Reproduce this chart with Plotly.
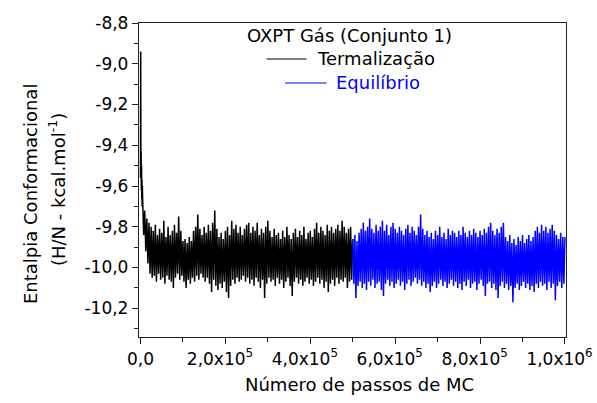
import plotly.graph_objects as go

# Entalpia conformacional ao longo da simulação MC (OXPT gás, conjunto 1).
# Cada bloco de 5000 passos é descrito pelos valores máximo e mínimo do traço.
inicio_passos = [0, 500, 1000, 1500, 2000, 2500, 3000, 3500, 4000, 4500]
inicio_entalpia = [-9.56, -8.94, -9.52, -9.43, -9.62, -9.50, -9.66, -9.57, -9.70, -9.60]

termal_max = [
    -9.66, -9.72, -9.76, -9.78, -9.80,
    -9.82, -9.79, -9.84, -9.81, -9.83, -9.77, -9.85, -9.80, -9.84, -9.82, -9.79, -9.83, -9.75, -9.82,
    -9.87, -9.86, -9.88, -9.85, -9.87, -9.82, -9.80, -9.74, -9.81, -9.84,
    -9.80, -9.83, -9.79, -9.82, -9.78, -9.72, -9.81, -9.85, -9.83, -9.86,
    -9.82, -9.80, -9.84, -9.77, -9.81, -9.79, -9.83, -9.80, -9.84, -9.81,
    -9.79, -9.78, -9.83, -9.80, -9.82, -9.78, -9.84, -9.81, -9.83, -9.80,
    -9.77, -9.82, -9.85, -9.81, -9.84, -9.83, -9.86, -9.82, -9.85, -9.80,
    -9.84, -9.86, -9.83, -9.81, -9.85, -9.82, -9.84, -9.80, -9.86, -9.83,
    -9.82, -9.85, -9.81, -9.78, -9.83, -9.80, -9.82, -9.84, -9.79, -9.82,
    -9.80, -9.83, -9.81, -9.79, -9.82, -9.77, -9.80, -9.83, -9.81, -9.80,
]
termal_min = [
    -9.84, -9.92, -9.98, -10.03, -10.05,
    -10.04, -10.07, -10.03, -10.06, -10.05, -10.08, -10.04, -10.06, -10.07, -10.10, -10.05, -10.03, -10.06, -10.04,
    -10.07, -10.10, -10.06, -10.08, -10.05, -10.07, -10.04, -10.06, -10.03, -10.05,
    -10.07, -10.05, -10.08, -10.12, -10.06, -10.09, -10.11, -10.08, -10.10, -10.07,
    -10.12, -10.15, -10.09, -10.06, -10.08, -10.05, -10.07, -10.06, -10.04, -10.07,
    -10.05, -10.08, -10.06, -10.09, -10.05, -10.07, -10.10, -10.06, -10.15, -10.08,
    -10.05, -10.07, -10.06, -10.09, -10.05, -10.08, -10.06, -10.10, -10.07, -10.05,
    -10.09, -10.14, -10.07, -10.05, -10.08, -10.06, -10.09, -10.07, -10.05, -10.08,
    -10.06, -10.09, -10.07, -10.05, -10.08, -10.06, -10.10, -10.07, -10.12, -10.08,
    -10.06, -10.09, -10.05, -10.08, -10.06, -10.07, -10.05, -10.10, -10.07, -10.06,
]

equil_max = [
    -9.86, -9.84, -9.87, -9.83, -9.81, -9.78, -9.82, -9.80, -9.76, -9.81,
    -9.83, -9.79, -9.82, -9.80, -9.77, -9.82, -9.79, -9.84, -9.80, -9.78,
    -9.81, -9.83, -9.80, -9.82, -9.84, -9.81, -9.79, -9.83, -9.80, -9.82,
    -9.84, -9.80, -9.74, -9.81, -9.84, -9.82, -9.85, -9.83, -9.86, -9.82,
    -9.84, -9.80, -9.85, -9.83, -9.86, -9.81, -9.84, -9.82, -9.83, -9.85,
    -9.82, -9.84, -9.80, -9.83, -9.85, -9.82, -9.84, -9.81, -9.83, -9.85,
    -9.82, -9.84, -9.81, -9.83, -9.80, -9.78, -9.82, -9.84, -9.81, -9.83,
    -9.80, -9.78, -9.85, -9.87, -9.84, -9.88, -9.86, -9.89, -9.85, -9.87,
    -9.84, -9.88, -9.86, -9.84, -9.87, -9.85, -9.82, -9.80, -9.83, -9.79,
    -9.82, -9.80, -9.83, -9.81, -9.79, -9.82, -9.84, -9.86, -9.83, -9.85,
]
equil_min = [
    -10.08, -10.15, -10.09, -10.07, -10.10, -10.08, -10.11, -10.07, -10.09, -10.06,
    -10.10, -10.08, -10.07, -10.11, -10.14, -10.08, -10.06, -10.09, -10.07, -10.10,
    -10.08, -10.06, -10.09, -10.07, -10.11, -10.08, -10.06, -10.09, -10.07, -10.05,
    -10.08, -10.06, -10.09, -10.07, -10.10, -10.08, -10.12, -10.09, -10.07, -10.10,
    -10.08, -10.06, -10.09, -10.07, -10.10, -10.08, -10.06, -10.09, -10.07, -10.10,
    -10.08, -10.11, -10.07, -10.09, -10.06, -10.10, -10.08, -10.07, -10.11, -10.08,
    -10.06, -10.09, -10.14, -10.08, -10.07, -10.10, -10.08, -10.11, -10.15, -10.09,
    -10.07, -10.10, -10.08, -10.11, -10.09, -10.17, -10.10, -10.08, -10.11, -10.09,
    -10.07, -10.10, -10.08, -10.11, -10.09, -10.12, -10.08, -10.10, -10.07, -10.09,
    -10.08, -10.11, -10.07, -10.10, -10.08, -10.16, -10.09, -10.07, -10.10, -10.08,
]

BLOCO = 5000
INICIO_EQUIL = 500000
FIM = 1000000

y_ticks = [-8.8, -9.0, -9.2, -9.4, -9.6, -9.8, -10.0, -10.2]
y_labels = ["-8,8", "-9,0", "-9,2", "-9,4", "-9,6", "-9,8", "-10,0", "-10,2"]
x_ticks = [0, 200000, 400000, 600000, 800000, 1000000]
x_labels = ["0,0", "2,0x10<sup>5</sup>", "4,0x10<sup>5</sup>", "6,0x10<sup>5</sup>",
            "8,0x10<sup>5</sup>", "1,0x10<sup>6</sup>"]


def traco(passo0, maximos, minimos):
    """Intercala máximo e mínimo de cada bloco para desenhar o traço ruidoso."""
    xs, ys = [], []
    for k, (hi, lo) in enumerate(zip(maximos, minimos)):
        base = passo0 + k * BLOCO
        xs += [base, base + BLOCO // 2]
        ys += [hi, lo]
    return xs, ys


tx, ty = traco(BLOCO, termal_max, termal_min)
tx = inicio_passos + tx + [INICIO_EQUIL]
ty = inicio_entalpia + ty + [equil_max[0]]
ex, ey = traco(INICIO_EQUIL, equil_max, equil_min)
ex = ex + [FIM]
ey = ey + [equil_max[-1]]

# o expoente fica pendurado à direita: o mantissa centra-se no traço do eixo
NBSP = "\u00a0\u00a0"
x_text = [t + NBSP if "<sup>" in t else t for t in x_labels]

FONT = "DejaVu Sans"
W, H = 597, 403
L, R, T, B = 139, 566, 23, 337

fig = go.Figure()
fig.add_trace(go.Scatter(x=tx, y=ty, mode="lines", name="Termalização",
                         line=dict(color="#000000", width=1.5, simplify=False), showlegend=False))
fig.add_trace(go.Scatter(x=ex, y=ey, mode="lines", name="Equilíbrio",
                         line=dict(color="#0000ff", width=1.5, simplify=False), showlegend=False))


def px(x):
    return (x - L) / (R - L)


def py(y):
    return (B - y) / (B - T)


axis_common = dict(
    showgrid=False, zeroline=False, showline=True, linecolor="#222222", linewidth=1.3,
    mirror=True, ticks="outside", ticklen=6, tickwidth=1.2, tickcolor="#222222",
    tickfont=dict(family=FONT, size=17, color="#000000"), automargin=False,
)
fig.update_xaxes(range=[-3500, 1002500], tickmode="array", tickvals=x_ticks, ticktext=x_text,
                 ticklabeloverflow="allow",
                 minor=dict(ticks="outside", ticklen=4, tickwidth=1.2, tickcolor="#222222", dtick=100000,
                            tick0=0),
                 **axis_common)
fig.update_yaxes(range=[-10.341, -8.8], tickmode="array", tickvals=y_ticks, ticktext=y_labels,
                 minor=dict(ticks="outside", ticklen=4, tickwidth=1.2, tickcolor="#222222", dtick=0.1,
                            tick0=-8.8),
                 **axis_common)

ann = []
# títulos dos eixos
ann.append(dict(text="Entalpia Conformacional", x=px(30), y=py(194), textangle=-90))
ann.append(dict(text="(H/N - kcal.mol<sup>-1</sup>)", x=px(57), y=py(190), textangle=-90))
ann.append(dict(text="Número de passos de MC", x=px(359), y=py(384)))
# legenda
ann.append(dict(text="OXPT Gás (Conjunto 1)", x=px(349.5), y=py(35)))
ann.append(dict(text="Termalização", x=px(315), y=py(59), xanchor="left"))
ann.append(dict(text="Equilíbrio", x=px(334), y=py(83), xanchor="left",
                font=dict(family=FONT, size=18, color="#0000ff")))
for a in ann:
    a.setdefault("xanchor", "center")
    a.setdefault("font", dict(family=FONT, size=18, color="#000000"))
    fig.add_annotation(xref="paper", yref="paper", yanchor="middle", showarrow=False, **a)

for (x0, x1, yy, cor) in [(266.5, 306.5, 59, "#000000"), (285, 326.5, 83, "#0000ff")]:
    fig.add_shape(type="line", xref="paper", yref="paper", x0=px(x0), x1=px(x1),
                  y0=py(yy), y1=py(yy), line=dict(color=cor, width=1))

fig.update_layout(
    width=W, height=H, autosize=False,
    margin=dict(l=L, r=W - R, t=T, b=H - B, autoexpand=False),
    paper_bgcolor="#ffffff", plot_bgcolor="#ffffff",
    showlegend=False,
)
fig.write_html("out.html")
